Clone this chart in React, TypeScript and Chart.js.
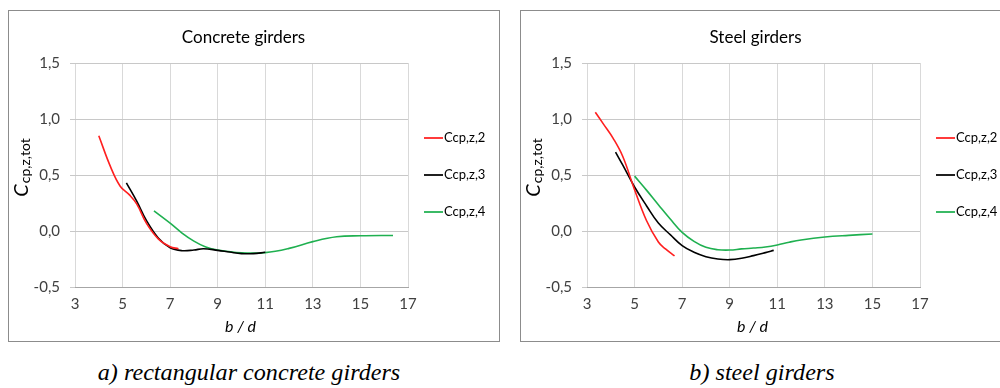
import React, { useEffect, useRef } from 'react';
import { Chart, registerables } from 'chart.js';

Chart.register(...registerables);

// ---------- data ----------
const xTickValues = [3, 5, 7, 9, 11, 13, 15, 17];
const yTickValues = [-0.5, 0, 0.5, 1, 1.5];
const yTickLabels = ['-0,5', '0,0', '0,5', '1,0', '1,5'];
const seriesLabels = ['Ccp,z,2', 'Ccp,z,3', 'Ccp,z,4'];
const chartTitles = ['Concrete girders', 'Steel girders'];
const captions = ['a) rectangular concrete girders', 'b) steel girders'];
const xAxisTitle = 'b / d';
const yAxisTitleMain = 'C';
const yAxisTitleSub = 'cp,z,tot';

// Concrete girders
const concreteBd2 = [4.0, 4.5, 4.9, 5.3, 5.6, 6.0, 6.5, 7.0, 7.35];
const concreteC2 = [0.85, 0.57, 0.4, 0.32, 0.24, 0.07, -0.07, -0.14, -0.158];
const concreteBd3 = [5.16, 5.6, 6.0, 6.5, 7.0, 7.5, 8.0, 8.4, 9.0, 9.5, 10.0, 10.5, 11.0];
const concreteC3 = [0.43, 0.265, 0.095, -0.062, -0.15, -0.176, -0.17, -0.158, -0.173, -0.188, -0.202, -0.202, -0.19];
const concreteBd4 = [6.32, 7.0, 7.5, 8.0, 8.5, 9.0, 10.0, 11.0, 12.0, 13.0, 14.0, 15.0, 16.37];
const concreteC4 = [0.18, 0.07, -0.018, -0.09, -0.143, -0.17, -0.195, -0.193, -0.155, -0.095, -0.052, -0.043, -0.04];

// Steel girders
const steelBd2 = [3.35, 3.7, 4.1, 4.5, 5.0, 5.5, 6.0, 6.3, 6.68];
const steelC2 = [1.06, 0.952, 0.827, 0.667, 0.369, 0.094, -0.098, -0.16, -0.222];
const steelBd3 = [4.2, 4.5, 5.0, 5.5, 6.0, 6.5, 7.0, 7.5, 8.0, 8.5, 9.0, 9.5, 10.0, 10.5, 10.85];
const steelC3 = [0.705, 0.59, 0.393, 0.226, 0.071, -0.033, -0.131, -0.19, -0.229, -0.25, -0.256, -0.244, -0.22, -0.193, -0.173];
const steelBd4 = [5.0, 5.5, 6.0, 6.5, 7.0, 7.5, 8.0, 8.5, 9.0, 9.5, 10.0, 10.5, 11.0, 11.5, 12.0, 13.0, 14.0, 15.0];
const steelC4 = [0.49, 0.365, 0.235, 0.107, -0.012, -0.092, -0.146, -0.167, -0.17, -0.16, -0.152, -0.143, -0.125, -0.1, -0.08, -0.054, -0.039, -0.027];

// ---------- styles ----------
const seriesColors = ['#ff1f1f', '#000000', '#1fb050'];
const SANS = 'Lato, "Open Sans", sans-serif';
const CANVAS_W = 490;
const CANVAS_H = 330;

function zip(xs: number[], ys: number[]) {
  return xs.map((x, i) => ({ x, y: ys[i] }));
}

const overlayPlugin = {
  id: 'overlay',
  afterDraw(chart: any, _args: any, opts: any) {
    const { ctx, chartArea } = chart;
    const l = chartArea.left;
    const r = chartArea.right;
    const t = chartArea.top;
    const cx = (l + r) / 2;
    ctx.save();
    ctx.fillStyle = '#000';
    // chart title
    ctx.font = `17px ${SANS}`;
    ctx.textAlign = 'center';
    ctx.textBaseline = 'middle';
    ctx.fillText(opts.title, cx + 2, 27);
    // x-axis title
    ctx.font = `italic 16px ${SANS}`;
    ctx.fillText(xAxisTitle, cx - 1, 316);
    // y-axis title (C with subscript)
    ctx.save();
    ctx.translate(19, t + 105);
    ctx.rotate(-Math.PI / 2);
    ctx.textBaseline = 'alphabetic';
    ctx.textAlign = 'left';
    const mainFont = `italic 20px ${SANS}`;
    const subFont = `14px ${SANS}`;
    ctx.font = mainFont;
    const wMain = ctx.measureText(yAxisTitleMain).width;
    ctx.font = subFont;
    const wSub = ctx.measureText(yAxisTitleSub).width;
    const start = -(wMain + wSub) / 2;
    ctx.font = mainFont;
    ctx.fillText(yAxisTitleMain, start, 0);
    ctx.font = subFont;
    ctx.fillText(yAxisTitleSub, start + wMain + 1, 2);
    ctx.restore();
    // legend
    ctx.font = `13px ${SANS}`;
    ctx.textAlign = 'left';
    ctx.textBaseline = 'middle';
    chart.data.datasets.forEach((ds: any, i: number) => {
      const y = t + 75 + i * 37;
      ctx.strokeStyle = ds.borderColor;
      ctx.lineWidth = 1.75;
      ctx.beginPath();
      ctx.moveTo(r + 16, y);
      ctx.lineTo(r + 35, y);
      ctx.stroke();
      ctx.fillStyle = '#000';
      ctx.fillText(ds.label, r + 36, y);
    });
    ctx.restore();
  },
};

function GirderChart({ title, xs, ys }: { title: string; xs: number[][]; ys: number[][] }) {
  const ref = useRef<HTMLCanvasElement>(null);
  useEffect(() => {
    if (!ref.current) return;
    const chart = new Chart(ref.current, {
      type: 'line',
      data: {
        datasets: xs.map((x, i) => ({
          label: seriesLabels[i],
          data: zip(x, ys[i]),
          borderColor: seriesColors[i],
          backgroundColor: seriesColors[i],
          borderWidth: 1.6,
          pointRadius: 0,
          tension: 0.4,
          fill: false,
        })),
      },
      options: {
        responsive: false,
        animation: false,
        devicePixelRatio: 1,
        layout: { padding: { left: 0, right: CANVAS_W - 399, top: 52, bottom: 0 } },
        plugins: {
          legend: { display: false },
          title: { display: false },
          tooltip: { enabled: false },
          overlay: { title },
        } as any,
        scales: {
          x: {
            type: 'linear',
            min: xTickValues[0],
            max: xTickValues[xTickValues.length - 1],
            afterBuildTicks: (s: any) => {
              s.ticks = xTickValues.map((v) => ({ value: v }));
            },
            afterFit: (s: any) => {
              s.height = CANVAS_H - 276;
            },
            ticks: {
              autoSkip: false,
              maxRotation: 0,
              padding: 8,
              color: '#404040',
              font: { family: SANS, size: 15 },
            },
            grid: { color: '#d9d9d9', drawTicks: false, lineWidth: 1 },
            border: { display: true, color: '#a6a6a6' },
          },
          y: {
            type: 'linear',
            min: yTickValues[0],
            max: yTickValues[yTickValues.length - 1],
            afterBuildTicks: (s: any) => {
              s.ticks = yTickValues.map((v) => ({ value: v }));
            },
            afterFit: (s: any) => {
              s.width = 66;
            },
            ticks: {
              padding: 10,
              color: '#404040',
              font: { family: SANS, size: 15 },
              callback: (v: any) => {
                const idx = yTickValues.findIndex((t) => Math.abs(t - Number(v)) < 1e-9);
                return idx >= 0 ? yTickLabels[idx] : '';
              },
            },
            grid: { color: '#c8c8c8', drawTicks: true, tickLength: 5, lineWidth: 1 },
            border: { display: false },
          },
        },
      },
      plugins: [overlayPlugin],
    } as any);
    return () => chart.destroy();
  }, [title, xs, ys]);
  return (
    <canvas
      ref={ref}
      width={CANVAS_W}
      height={CANVAS_H}
      style={{ width: CANVAS_W, height: CANVAS_H, display: 'block' }}
    />
  );
}

const concreteXs = [concreteBd2, concreteBd3, concreteBd4];
const concreteYs = [concreteC2, concreteC3, concreteC4];
const steelXs = [steelBd2, steelBd3, steelBd4];
const steelYs = [steelC2, steelC3, steelC4];

export default function App() {
  const boxStyle = (left: number): React.CSSProperties => ({
    position: 'absolute',
    left,
    top: 10,
    width: CANVAS_W + 2,
    height: CANVAS_H + 2,
    border: '1px solid #8c8c8c',
    boxSizing: 'border-box',
    background: '#fff',
  });
  const captionStyle = (center: number): React.CSSProperties => ({
    position: 'absolute',
    left: center - 250,
    width: 500,
    top: 361,
    textAlign: 'center',
    fontFamily: '"Liberation Serif", "Times New Roman", serif',
    fontStyle: 'italic',
    fontSize: 23,
    lineHeight: '23px',
    color: '#000',
    whiteSpace: 'nowrap',
    transform: 'scaleX(1.05)',
    transformOrigin: 'center',
  });
  return (
    <div
      style={{
        position: 'absolute',
        left: 0,
        top: 0,
        width: 1000,
        height: 388,
        overflow: 'hidden',
        background: '#fff',
      }}
    >
      <div style={boxStyle(8)}>
        <GirderChart title={chartTitles[0]} xs={concreteXs} ys={concreteYs} />
      </div>
      <div style={boxStyle(520)}>
        <GirderChart title={chartTitles[1]} xs={steelXs} ys={steelYs} />
      </div>
      <div style={captionStyle(249)}>{captions[0]}</div>
      <div style={captionStyle(762)}>{captions[1]}</div>
    </div>
  );
}
